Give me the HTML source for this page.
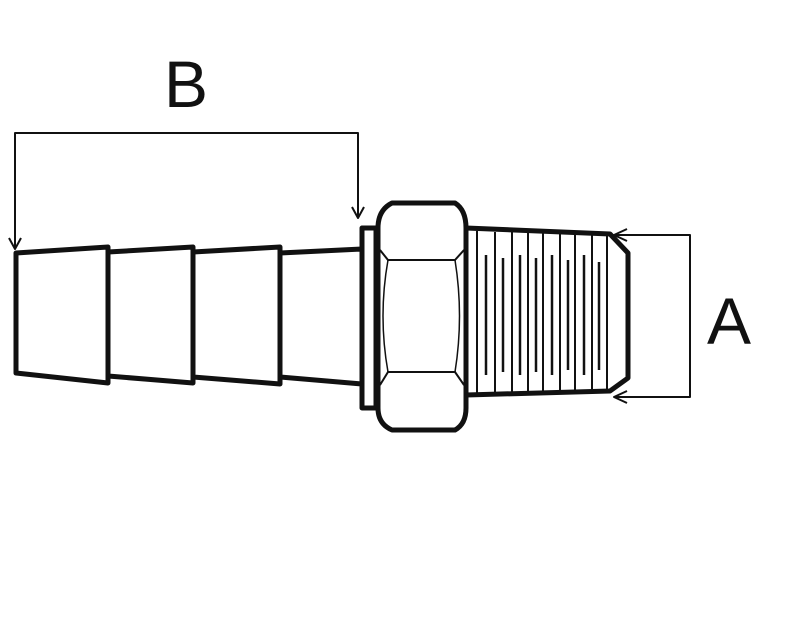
<!DOCTYPE html>
<html><head><meta charset="utf-8"><style>html,body{margin:0;padding:0;background:#fff}svg{display:block}</style></head>
<body>
<svg width="804" height="625" viewBox="0 0 804 625">
<g fill="none" stroke="#111" stroke-linejoin="round">
 <g stroke-width="5">
  <path d="M16,253 L108,247 L108,383 L16,373 Z"/>
  <path d="M108,252 L193,247 L193,383 L108,376 Z"/>
  <path d="M193,252 L280,247 L280,384 L193,377 Z"/>
  <path d="M280,253 L362,249 L362,384 L280,377 Z"/>
 </g>
 <g stroke-width="5">
  <path d="M362,228 L376,228 L376,408 L362,408 Z"/>
 </g>
 <g>
  <path d="M392,203 L455,203 Q466,210 466,228 L466,408 Q466,424 455,430 L392,430 Q378,424 378,408 L378,228 Q378,210 392,203 Z" stroke-width="5"/>
  <path d="M380,250 L388,260 L455,260 L464,250" stroke-width="2"/>
  <path d="M380,385 L388,372 L455,372 L464,385" stroke-width="2"/>
  <path d="M388,260 Q378,316 388,372" stroke-width="1.5"/>
  <path d="M455,260 Q464,316 455,372" stroke-width="1.5"/>
 </g>
 <g>
  <path d="M466,228 L610,234 L628,253 L628,378 L610,391 L466,395" stroke-width="5"/>
  <g stroke-width="2">
   <line x1="477" y1="231" x2="477" y2="393"/><line x1="495" y1="232" x2="495" y2="393"/>
   <line x1="512" y1="232" x2="512" y2="393"/><line x1="528" y1="233" x2="528" y2="392"/>
   <line x1="543" y1="233" x2="543" y2="392"/><line x1="560" y1="233" x2="560" y2="392"/>
   <line x1="575" y1="234" x2="575" y2="391"/><line x1="592" y1="234" x2="592" y2="391"/>
   <line x1="607" y1="234" x2="607" y2="391"/>
  </g>
  <g stroke-width="2.5">
   <line x1="486" y1="255" x2="486" y2="375"/><line x1="503" y1="258" x2="503" y2="372"/>
   <line x1="520" y1="255" x2="520" y2="375"/><line x1="536" y1="258" x2="536" y2="372"/>
   <line x1="552" y1="255" x2="552" y2="375"/><line x1="568" y1="260" x2="568" y2="370"/>
   <line x1="584" y1="255" x2="584" y2="375"/><line x1="599" y1="262" x2="599" y2="370"/>
  </g>
 </g>
 <g stroke-width="2">
  <path d="M15,249 L15,133 L358,133 L358,218"/>
  <path d="M9,238 L15,249 L21,238"/>
  <path d="M352,207 L358,218 L364,207"/>
 </g>
 <g stroke-width="2">
  <path d="M614,235 L690,235 L690,397 L614,397"/>
  <path d="M627,229 L614,235 L627,241"/>
  <path d="M627,391 L614,397 L627,403"/>
 </g>
</g>
<text x="186" y="107" text-anchor="middle" font-family="Liberation Sans, sans-serif" font-size="66" fill="#111">B</text>
<text x="729" y="344" text-anchor="middle" font-family="Liberation Sans, sans-serif" font-size="66" fill="#111">A</text>
</svg>
</body></html>
